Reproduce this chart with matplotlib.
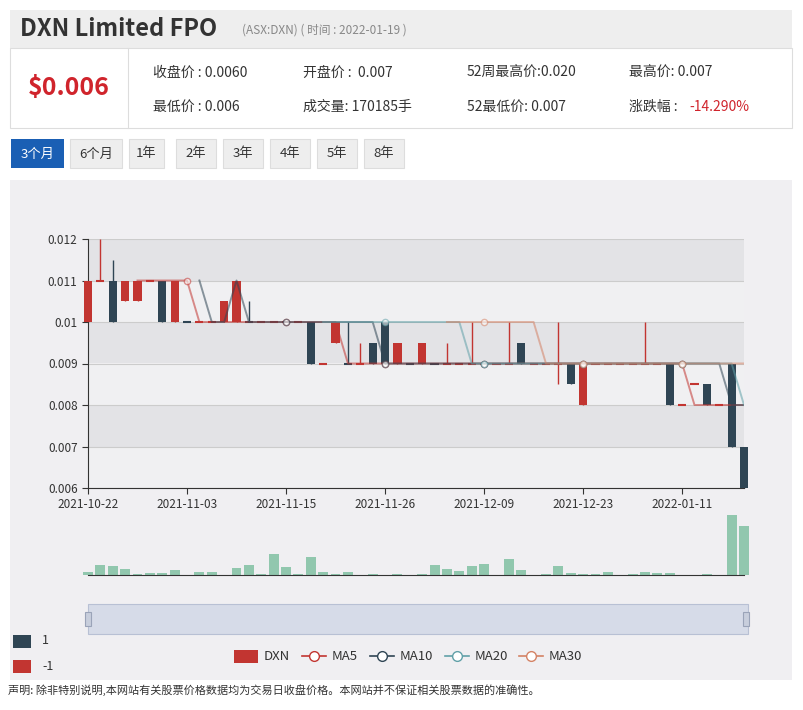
import numpy as np
import pandas as pd
import matplotlib.pyplot as plt
from matplotlib.patches import Rectangle
from matplotlib.lines import Line2D

plt.rcParams['font.family'] = ['Noto Sans CJK SC', 'DejaVu Sans']

# daily candles
opens  = [0.010, 0.011, 0.011, 0.0105, 0.0105, 0.011, 0.011, 0.010, 0.010, 0.010,
          0.010, 0.010, 0.010, 0.010, 0.010, 0.010, 0.010, 0.010, 0.010, 0.009,
          0.0095, 0.009, 0.009, 0.0095, 0.010, 0.009, 0.009, 0.009, 0.009, 0.009,
          0.009, 0.009, 0.009, 0.009, 0.009, 0.0095, 0.009, 0.009, 0.009, 0.009,
          0.008, 0.009, 0.009, 0.009, 0.009, 0.009, 0.009, 0.009, 0.008, 0.0085,
          0.0085, 0.008, 0.009, 0.007]
closes = [0.011, 0.011, 0.010, 0.011, 0.011, 0.011, 0.010, 0.011, 0.010, 0.010,
          0.010, 0.0105, 0.011, 0.010, 0.010, 0.010, 0.010, 0.010, 0.009, 0.009,
          0.010, 0.009, 0.009, 0.009, 0.009, 0.0095, 0.009, 0.0095, 0.009, 0.009,
          0.009, 0.009, 0.009, 0.009, 0.009, 0.009, 0.009, 0.009, 0.009, 0.0085,
          0.009, 0.009, 0.009, 0.009, 0.009, 0.009, 0.009, 0.008, 0.008, 0.0085,
          0.008, 0.008, 0.007, 0.006]
highs  = [0.011, 0.012, 0.0115, 0.011, 0.011, 0.011, 0.011, 0.011, 0.010, 0.010,
          0.010, 0.0105, 0.011, 0.0105, 0.010, 0.010, 0.010, 0.010, 0.010, 0.009,
          0.010, 0.010, 0.0095, 0.0095, 0.010, 0.0095, 0.009, 0.0095, 0.009, 0.0095,
          0.009, 0.010, 0.009, 0.009, 0.010, 0.0095, 0.009, 0.009, 0.010, 0.009,
          0.009, 0.009, 0.009, 0.009, 0.009, 0.010, 0.009, 0.009, 0.008, 0.0085,
          0.0085, 0.008, 0.009, 0.007]
lows   = [0.010, 0.011, 0.010, 0.0105, 0.0105, 0.011, 0.010, 0.010, 0.010, 0.010,
          0.010, 0.010, 0.010, 0.010, 0.010, 0.010, 0.010, 0.010, 0.009, 0.009,
          0.0095, 0.009, 0.009, 0.009, 0.009, 0.009, 0.009, 0.009, 0.009, 0.009,
          0.009, 0.009, 0.009, 0.009, 0.009, 0.009, 0.009, 0.009, 0.0085, 0.0085,
          0.008, 0.009, 0.009, 0.009, 0.009, 0.009, 0.009, 0.008, 0.008, 0.0085,
          0.008, 0.008, 0.007, 0.006]
volumes = [8, 27, 26, 18, 2, 7, 7, 14, 0, 8, 8, 0, 21, 28, 3, 58, 22, 4, 51, 9,
           3, 8, 1, 2, 1, 2, 1, 2, 27, 18, 12, 25, 30, 0, 45, 14, 0, 2, 26, 6,
           4, 3, 9, 0, 2, 9, 6, 7, 0, 0, 2, 0, 169, 137]
tick_labels = ['2021-10-22', '2021-11-03', '2021-11-15', '2021-11-26',
               '2021-12-09', '2021-12-23', '2022-01-11']
ma_windows = [5, 10, 20, 30]
ma_colors = ['#c23531', '#2f4554', '#61a0a8', '#d48265']

RED, DARK, GREEN = '#c23531', '#2f4554', '#91c7ae'
W, H = 804, 710
fig = plt.figure(figsize=(W / 100, H / 100), dpi=100)
fig.patch.set_facecolor('white')

def box(x0, y0, x1, y1, fc, ec='none', lw=0.8):
    fig.patches.append(Rectangle((x0 / W, 1 - y1 / H), (x1 - x0) / W, (y1 - y0) / H,
                                 transform=fig.transFigure, fc=fc, ec=ec, lw=lw, zorder=-1))

def txt(x, y, s, **kw):
    fig.text(x / W, 1 - y / H, s, va='center', **kw)

# header
box(10, 10, 792, 48, '#eeeeee')
box(10, 48, 792, 128, 'white', '#dddddd')
fig.add_artist(Line2D([128 / W, 128 / W], [1 - 48 / H, 1 - 128 / H], color='#dddddd', lw=0.8))
txt(20, 29, 'DXN Limited FPO', fontsize=17, fontweight='bold', color='#333333')
txt(242, 30, '(ASX:DXN) ( 时间 : 2022-01-19 )', fontsize=8.5, color='#888888')
txt(28, 88, '$0.006', fontsize=18, fontweight='bold', color='#d0242c')
info = [(153, 73, '收盘价 : 0.0060'), (303, 73, '开盘价 :  0.007'), (467, 73, '52周最高价:0.020'),
        (629, 73, '最高价: 0.007'), (153, 107, '最低价 : 0.006'), (303, 107, '成交量: 170185手'),
        (467, 107, '52最低价: 0.007'), (629, 107, '涨跌幅 :')]
for x, y, s in info:
    txt(x, y, s, fontsize=10, color='#333333')
txt(689, 107, '-14.290%', fontsize=10, color='#d0242c')

buttons = [('3个月', 11, 64), ('6个月', 70, 122), ('1年', 129, 164), ('2年', 176, 216),
           ('3年', 223, 263), ('4年', 270, 310), ('5年', 317, 357), ('8年', 364, 404)]
for i, (s, x0, x1) in enumerate(buttons):
    active = i == 0
    box(x0, 139, x1, 168, '#1a5fb4' if active else '#eeeeee', 'none' if active else '#dddddd')
    fig.text((x0 + x1) / 2 / W, 1 - 154 / H, s, ha='center', va='center', fontsize=9.5,
             color='white' if active else '#333333')

# chart panel
box(10, 180, 792, 680, '#f0eff2')

n = len(closes)
x = np.arange(n)

ax = fig.add_axes([88 / W, 1 - 488 / H, (744 - 88) / W, (488 - 239) / H])
ax.set_facecolor('none')
ax.set_xlim(0, n - 1)
ax.set_ylim(0.006, 0.012)
for k in range(6):
    lo = 0.006 + k * 0.001
    ax.axhspan(lo, lo + 0.001, color='#f0f0f2' if k % 2 == 0 else '#e3e3e6', zorder=0, lw=0)
for k in range(7):
    ax.axhline(0.006 + k * 0.001, color='#cccccc', lw=0.8, zorder=0.5)

prev = closes[0]
for i in range(n):
    o, c = opens[i], closes[i]
    if c > o:
        col = RED
    elif c < o:
        col = DARK
    else:
        col = DARK if c < prev else RED
    prev = c
    ax.vlines(i, lows[i], highs[i], color=col, lw=1, zorder=2, clip_on=False)
    if c == o:
        ax.hlines(c, i - 0.33, i + 0.33, color=col, lw=1.5, zorder=3, clip_on=False)
    else:
        ax.add_patch(Rectangle((i - 0.33, min(o, c)), 0.66, abs(c - o), fc=col, ec='none',
                               zorder=3, clip_on=False))

close_s = pd.Series(closes)
for w, col in zip(ma_windows, ma_colors):
    ma = close_s.rolling(w).mean().round(3)
    ax.plot(x, ma, color=col, lw=1.4, alpha=0.55, zorder=4,
            marker='o', markevery=[i for i in range(0, n, 8) if i >= w - 1],
            ms=4.5, mfc='white', mec=col, mew=1)

ax.set_yticks([0.006 + k * 0.001 for k in range(7)])
ax.set_yticklabels(['0.006', '0.007', '0.008', '0.009', '0.01', '0.011', '0.012'])
ax.set_xticks(range(0, n, 8))
ax.set_xticklabels(tick_labels)
ax.tick_params(labelsize=8.5, colors='#333333', length=4)
for s in ['top', 'right']:
    ax.spines[s].set_visible(False)
for s in ['left', 'bottom']:
    ax.spines[s].set_color('#333333')

# volume
axv = fig.add_axes([88 / W, 1 - 575 / H, (744 - 88) / W, (575 - 515) / H])
axv.set_facecolor('none')
axv.bar(x, volumes, width=0.8, color=GREEN, clip_on=False)
axv.set_xlim(0, n - 1)
axv.set_ylim(0, max(volumes))
axv.set_yticks([])
axv.set_xticks([])
for s in ['top', 'right', 'left']:
    axv.spines[s].set_visible(False)
axv.spines['bottom'].set_color('#333333')

# zoom slider
box(88, 604, 748, 634, '#d6dbe8', '#b8c0d4')
for hx in (88, 746):
    box(hx - 3, 612, hx + 3, 626, '#c8cedc', '#9aa3b8')

# legends
box(13, 635, 31, 648, DARK)
txt(42, 641, '1', fontsize=9, color='#333333')
box(13, 660, 31, 673, RED)
txt(42, 666, '-1', fontsize=9, color='#333333')

box(234, 650, 258, 663, RED)
txt(264, 656, 'DXN', fontsize=9.5, color='#333333')
for (lx, name), col in zip([(302, 'MA5'), (370, 'MA10'), (445, 'MA20'), (519, 'MA30')], ma_colors):
    fig.add_artist(Line2D([lx / W, (lx + 24) / W], [1 - 656 / H] * 2, color=col, lw=1.2))
    fig.add_artist(Line2D([(lx + 12) / W], [1 - 656 / H], color=col, marker='o',
                          mfc='white', mec=col, ms=7))
    txt(lx + 30, 656, name, fontsize=9.5, color='#333333')

txt(8, 690, '声明: 除非特别说明,本网站有关股票价格数据均为交易日收盘价格。本网站并不保证相关股票数据的准确性。',
    fontsize=8, color='#333333')

fig.savefig('out.png', dpi=100)
